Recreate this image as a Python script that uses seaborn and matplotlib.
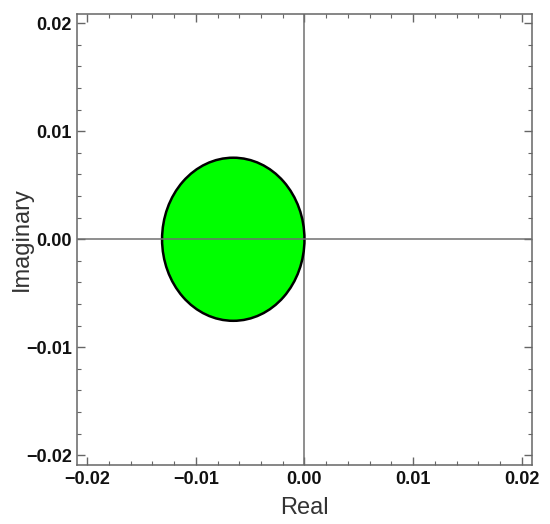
#Import Libraries
import numpy as np
import seaborn as sb
import matplotlib.pyplot as plt
from matplotlib.patches import Ellipse
from matplotlib.ticker import MultipleLocator, FuncFormatter

#Data
regionCenter = [-0.00655, 0.0]
regionWidth = 0.0131
regionHeight = 0.0151
majorTicks = [-0.02, -0.01, 0.00, 0.01, 0.02]
xLimits = [-0.0209, 0.0209]
yLimits = [-0.0209, 0.0209]

#Style
sb.set_style("ticks")
plt.rcParams["font.family"] = ["Liberation Sans", "DejaVu Sans"]

#Graph
fig = plt.figure(figsize=(5.5, 5.24), dpi=100)
ax = fig.add_axes([0.1405, 0.1126, 0.8262, 0.8616])

ax.add_patch(Ellipse(regionCenter, regionWidth, regionHeight,
                     facecolor="#00ff00", edgecolor="black", linewidth=1.8, zorder=2))
ax.axhline(0, color="#707070", linewidth=1.1, zorder=3)
ax.axvline(0, color="#707070", linewidth=1.1, zorder=1)

ax.set_xlim(xLimits)
ax.set_ylim(yLimits)
ax.set_xticks(majorTicks)
ax.set_yticks(majorTicks)
ax.xaxis.set_minor_locator(MultipleLocator(0.002))
ax.yaxis.set_minor_locator(MultipleLocator(0.002))
fmt = FuncFormatter(lambda v, pos: ("%.2f" % v).replace("-", "\u2212"))
ax.xaxis.set_major_formatter(fmt)
ax.yaxis.set_major_formatter(fmt)

#Custom the Graph
for spine in ax.spines.values():
    spine.set_visible(True)
    spine.set_color("#666666")
    spine.set_linewidth(1.1)
ax.tick_params(which="both", direction="in", top=True, right=True, color="#666666")
ax.tick_params(which="major", length=6, width=1, labelsize=13, pad=4)
ax.tick_params(which="minor", length=3, width=0.8)
for label in ax.get_xticklabels() + ax.get_yticklabels():
    label.set_fontweight("bold")
    label.set_color("#111111")

ax.set_xlabel("Real", fontsize=17, color="#333333")
ax.set_ylabel("Imaginary", fontsize=17, color="#333333")
ax.xaxis.set_label_coords(0.5, -0.071)
ax.yaxis.set_label_coords(-0.098, 0.5)

plt.savefig("out.png", dpi=100)
